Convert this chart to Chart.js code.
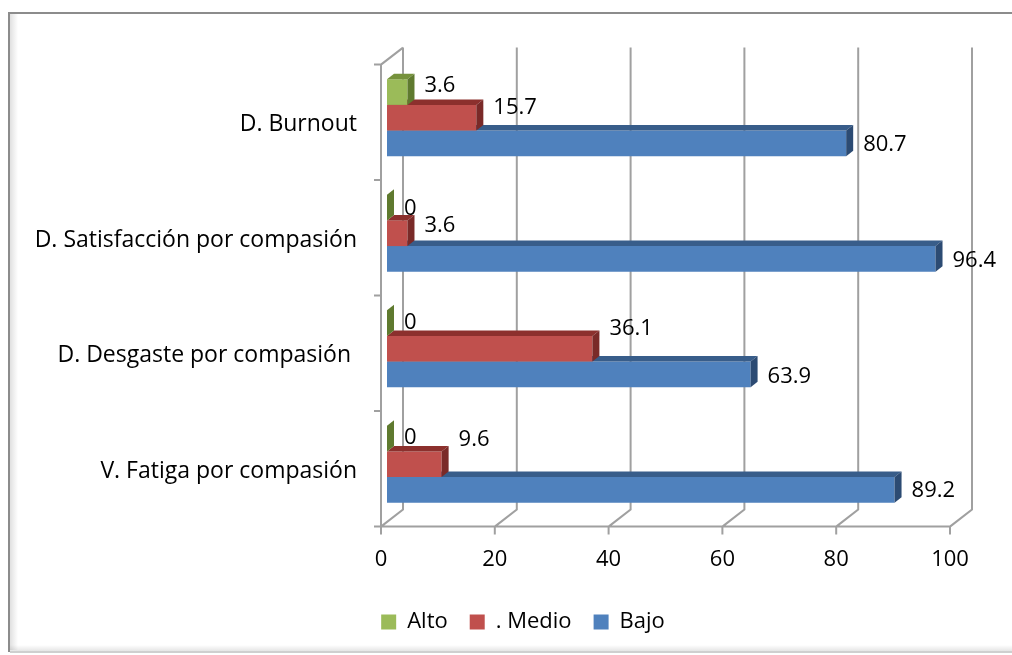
<!DOCTYPE html>
<html>
<head>
<meta charset="utf-8">
<script src="https://cdn.jsdelivr.net/npm/chart.js@4.4.1/dist/chart.umd.min.js"></script>
<style>
  html, body { margin: 0; padding: 0; background: #fff; }
  canvas { display: block; }
</style>
</head>
<body>
<canvas id="canvas-1" width="1012" height="655"></canvas>
<script>
const categories = [
  "D. Burnout",
  "D. Satisfacción por compasión",
  "D. Desgaste por compasión ",
  "V. Fatiga por compasión",
];
const alto = [3.6, 0, 0, 0];
const medio = [15.7, 3.6, 36.1, 9.6];
const bajo = [80.7, 96.4, 63.9, 89.2];
const xTicks = [0, 20, 40, 60, 80, 100];

const font = { family: "'Open Sans', sans-serif", size: 22 };
const catFont = { family: "'Open Sans', sans-serif", size: 23 };
const gridColor = "#a0a0a0";
// offsets of the 3D box walls relative to the plane the bars sit in
const front = { dx: -6, dy: 4.6 };
const back = { dx: 16, dy: -12.4 };
const bar3d = { dx: 7, dy: -5.5 };
const faces = [
  { top: "#76923c", side: "#5f7a2f" },
  { top: "#8c302d", side: "#7a2a28" },
  { top: "#385d8a", side: "#2c4b73" },
];
// vertical nudges of the value labels (Excel puts them a bit loosely)
const labelNudge = [
  [-6, 1, 0, -1],
  [-10, -8, -20, -25],
  [1, 2, 2, 1],
];
const legendShift = 45;

const box3d = {
  id: "box3d",
  afterLayout(chart) {
    chart.legend.left += legendShift;
    chart.legend.right += legendShift;
  },
  beforeDraw(chart) {
    const { ctx, width, height } = chart;
    ctx.save();
    ctx.fillStyle = "#fff";
    ctx.fillRect(0, 0, width, height);
    let g = ctx.createLinearGradient(10, 0, 18, 0);
    g.addColorStop(0, "rgba(0,0,0,0.12)");
    g.addColorStop(1, "rgba(0,0,0,0)");
    ctx.fillStyle = g;
    ctx.fillRect(10, 14, 8, 636);
    g = ctx.createLinearGradient(0, 651, 0, 645);
    g.addColorStop(0, "rgba(0,0,0,0.10)");
    g.addColorStop(1, "rgba(0,0,0,0)");
    ctx.fillStyle = g;
    ctx.fillRect(10, 645, width - 10, 6);
    ctx.strokeStyle = "#8c8c8c";
    ctx.lineWidth = 2;
    ctx.beginPath();
    ctx.moveTo(width, 13);
    ctx.lineTo(9, 13);
    ctx.lineTo(9, 652);
    ctx.stroke();
    ctx.strokeStyle = "#cfcfcf";
    ctx.beginPath();
    ctx.moveTo(10, 652);
    ctx.lineTo(width, 652);
    ctx.stroke();
    ctx.restore();
  },
  beforeDatasetsDraw(chart) {
    const { ctx, chartArea: a, scales: { x } } = chart;
    ctx.save();
    ctx.strokeStyle = gridColor;
    ctx.lineWidth = 2;
    ctx.beginPath();
    xTicks.forEach((v) => {
      const px = x.getPixelForValue(v);
      ctx.moveTo(px + back.dx, a.top + back.dy);
      ctx.lineTo(px + back.dx, a.bottom + back.dy);
      ctx.lineTo(px + front.dx, a.bottom + front.dy);
      ctx.lineTo(px + front.dx, a.bottom + front.dy + 8);
    });
    const x0 = x.getPixelForValue(0) + front.dx;
    const x1 = x.getPixelForValue(100) + front.dx;
    ctx.moveTo(x0, a.bottom + front.dy);
    ctx.lineTo(x1, a.bottom + front.dy);
    ctx.moveTo(x0 + back.dx - front.dx, a.top + back.dy);
    ctx.lineTo(x0, a.top + front.dy);
    ctx.lineTo(x0, a.bottom + front.dy);
    const n = categories.length;
    const step = (a.bottom - a.top) / n;
    for (let i = 0; i <= n; i++) {
      const yy = a.top + front.dy + i * step;
      ctx.moveTo(x0 - 7, yy);
      ctx.lineTo(x0, yy);
    }
    ctx.stroke();
    ctx.restore();
  },
  afterDatasetDraw(chart, args) {
    const { ctx } = chart;
    const f = faces[args.index];
    ctx.save();
    args.meta.data.forEach((b) => {
      const top = b.y - b.height / 2;
      const bot = b.y + b.height / 2;
      ctx.fillStyle = f.top;
      ctx.beginPath();
      ctx.moveTo(b.base, top);
      ctx.lineTo(b.base + bar3d.dx, top + bar3d.dy);
      ctx.lineTo(b.x + bar3d.dx, top + bar3d.dy);
      ctx.lineTo(b.x, top);
      ctx.closePath();
      ctx.fill();
      ctx.fillStyle = f.side;
      ctx.beginPath();
      ctx.moveTo(b.x, top);
      ctx.lineTo(b.x + bar3d.dx, top + bar3d.dy);
      ctx.lineTo(b.x + bar3d.dx, bot + bar3d.dy);
      ctx.lineTo(b.x, bot);
      ctx.closePath();
      ctx.fill();
    });
    ctx.restore();
  },
  afterDatasetsDraw(chart) {
    const { ctx } = chart;
    ctx.save();
    ctx.font = font.size + "px " + font.family;
    ctx.fillStyle = "#000";
    ctx.textAlign = "left";
    ctx.textBaseline = "middle";
    chart.data.datasets.forEach((ds, i) => {
      chart.getDatasetMeta(i).data.forEach((b, j) => {
        ctx.fillText(String(ds.data[j]), b.x + bar3d.dx + 10, b.y + labelNudge[i][j]);
      });
    });
    ctx.restore();
  },
};

const barChart = new Chart(document.getElementById("canvas-1"), {
  type: "bar",
  data: {
    labels: categories,
    datasets: [
      { label: "Alto", data: alto, backgroundColor: "#9bbb59" },
      { label: ". Medio", data: medio, backgroundColor: "#c0504d" },
      { label: "Bajo", data: bajo, backgroundColor: "#4f81bd" },
    ],
  },
  options: {
    indexAxis: "y",
    responsive: false,
    animation: false,
    devicePixelRatio: 1,
    datasets: { bar: { categoryPercentage: 0.667, barPercentage: 1, borderWidth: 0 } },
    layout: { padding: { left: 0, right: 56, top: 60, bottom: 12 } },
    scales: {
      x: {
        min: 0,
        max: 100,
        afterBuildTicks: (s) => {
          s.ticks = xTicks.map((v) => ({ value: v }));
        },
        grid: { display: false, drawTicks: false },
        border: { display: false },
        ticks: { font, color: "#000", padding: 25, labelOffset: -6 },
        afterFit: (s) => {
          s.height = 67;
        },
      },
      y: {
        grid: { display: false, drawTicks: false },
        border: { display: false },
        ticks: { font: catFont, color: "#000", padding: 30, labelOffset: 7 },
        afterFit: (s) => {
          s.width = 387;
        },
      },
    },
    plugins: {
      legend: {
        position: "bottom",
        labels: { font, color: "#000", boxWidth: 15, boxHeight: 15, padding: 22 },
      },
      tooltip: { enabled: false },
    },
  },
  plugins: [box3d],
});
</script>
</body>
</html>
